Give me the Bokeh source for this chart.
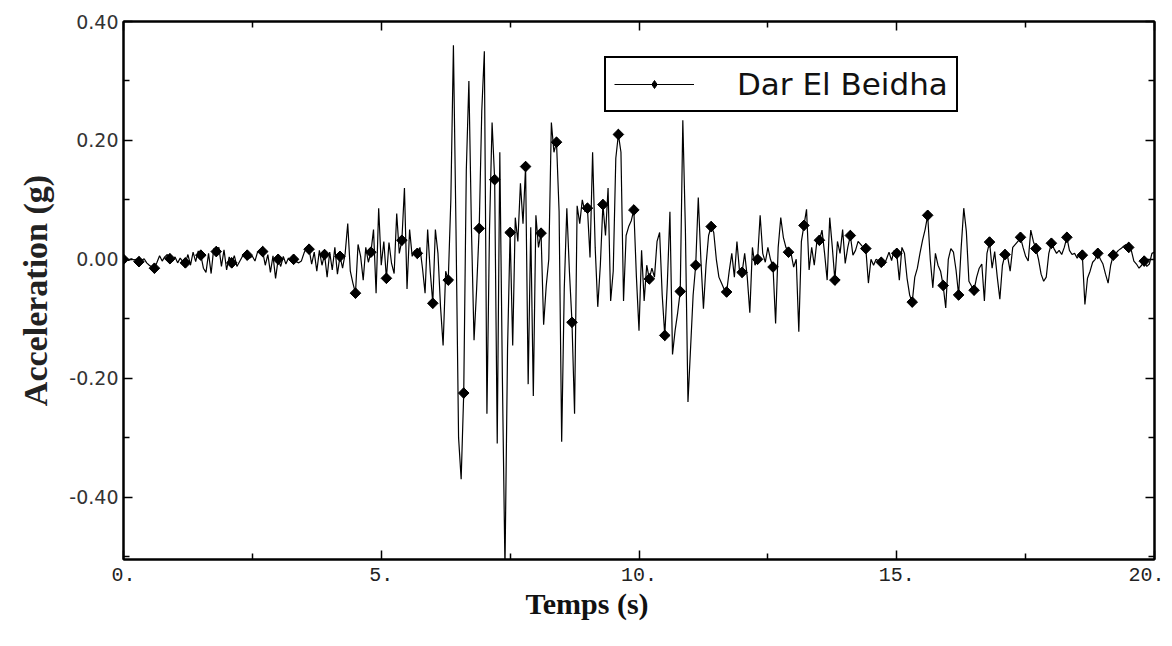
from bokeh.plotting import figure
from bokeh.models import (ColumnDataSource, LinearAxis, FixedTicker, Range1d, Legend,
                          LegendItem, Title, NumeralTickFormatter, CustomJSTickFormatter)
from bokeh.embed import file_html
from bokeh.resources import INLINE

SAMPLE_DT = 0.05
MARK_EVERY = 6
series_name = "Dar El Beidha"
acceleration = [
    0.000, 0.002, -0.002, 0.001, -0.001, 0.000, -0.004, -0.002, 0.001, -0.006, -0.010, -0.013, -0.015, -0.005, 0.006, -0.003, 0.004, 0.008, 0.001, -0.003,
    0.004, -0.006, 0.002, -0.004, -0.006, 0.008, -0.010, 0.012, -0.004, 0.014, 0.007, -0.015, -0.022, 0.010, -0.024, 0.018, 0.013, 0.020, -0.012, 0.016,
    -0.018, 0.004, -0.006, 0.006, -0.012, -0.004, 0.004, 0.010, 0.007, 0.002, 0.005, -0.003, 0.012, 0.016, 0.013, -0.010, 0.008, -0.022, 0.006, -0.032,
    0.000, -0.012, 0.005, -0.008, 0.002, -0.003, 0.000, -0.004, -0.006, -0.003, 0.010, 0.020, 0.017, -0.008, 0.012, -0.020, 0.015, -0.010, 0.008, -0.030,
    0.012, -0.018, 0.020, -0.025, 0.005, -0.015, 0.010, 0.060, -0.020, -0.040, -0.057, 0.025, 0.005, -0.035, 0.020, -0.005, 0.012, 0.050, -0.057, 0.086,
    -0.010, 0.030, -0.032, 0.028, -0.007, -0.024, 0.077, 0.010, 0.032, 0.120, -0.050, 0.050, 0.005, 0.015, 0.010, 0.020, -0.015, -0.057, 0.050, -0.020,
    -0.074, 0.050, 0.010, -0.080, -0.145, -0.020, -0.035, 0.100, 0.360, 0.050, -0.300, -0.370, -0.225, 0.150, 0.300, 0.050, -0.136, -0.050, 0.052, 0.250,
    0.350, -0.260, 0.050, 0.230, 0.134, -0.310, 0.180, -0.200, -0.520, -0.150, 0.045, -0.145, 0.070, 0.030, 0.128, 0.060, 0.156, -0.210, 0.054, -0.230,
    0.074, 0.020, 0.044, -0.110, -0.045, 0.000, 0.230, 0.180, 0.197, 0.080, -0.307, -0.050, 0.086, -0.020, -0.106, -0.260, 0.090, 0.060, 0.100, 0.080,
    0.086, 0.003, 0.180, 0.020, -0.080, -0.010, 0.092, 0.040, 0.120, -0.070, -0.020, 0.170, 0.210, 0.180, -0.070, 0.040, 0.055, 0.065, 0.083, -0.030,
    -0.120, 0.015, -0.070, -0.010, -0.033, -0.015, -0.030, 0.030, 0.045, -0.060, -0.128, -0.040, 0.080, -0.160, -0.120, -0.090, -0.054, 0.234, 0.050, -0.240,
    -0.150, -0.060, -0.010, 0.104, 0.000, -0.083, -0.010, 0.040, 0.055, 0.045, 0.000, -0.030, -0.040, -0.050, -0.055, -0.020, 0.010, -0.030, 0.030, -0.020,
    -0.022, 0.010, -0.030, -0.090, 0.020, -0.010, 0.000, 0.074, 0.010, -0.005, 0.020, 0.000, -0.013, -0.108, 0.020, 0.070, 0.037, 0.020, 0.012, 0.010,
    -0.013, 0.000, -0.122, 0.030, 0.057, 0.084, -0.018, 0.020, -0.010, 0.030, 0.032, 0.049, 0.010, -0.035, 0.070, 0.020, -0.035, 0.030, 0.010, 0.050,
    -0.007, 0.020, 0.040, 0.007, 0.015, 0.030, 0.025, 0.020, 0.018, -0.040, 0.000, -0.010, 0.000, -0.003, -0.005, -0.010, 0.000, 0.012, -0.002, 0.015,
    0.010, -0.035, 0.020, 0.010, -0.032, -0.060, -0.072, -0.030, -0.015, 0.010, 0.032, 0.050, 0.074, 0.000, -0.048, 0.010, -0.010, -0.020, -0.044, -0.082,
    0.000, 0.018, 0.012, -0.018, -0.060, 0.020, 0.086, 0.047, -0.037, -0.045, -0.052, -0.030, -0.015, -0.008, -0.070, 0.010, 0.029, -0.015, 0.013, -0.030,
    -0.067, -0.010, 0.008, 0.005, -0.020, 0.020, 0.025, 0.030, 0.037, 0.020, 0.005, -0.003, 0.049, 0.030, 0.018, 0.000, -0.025, -0.037, -0.030, 0.010,
    0.027, 0.018, 0.010, 0.015, 0.008, 0.020, 0.037, 0.015, 0.008, 0.010, 0.002, 0.010, 0.007, -0.076, -0.032, -0.020, -0.005, 0.000, 0.010, 0.000,
    -0.008, -0.025, -0.040, -0.010, 0.007, 0.010, 0.015, 0.018, 0.022, 0.025, 0.020, 0.015, -0.003, -0.008, -0.015, -0.010, -0.003, -0.012, -0.008, 0.010,
    0.012,
]
time_s = [round(i * SAMPLE_DT, 2) for i in range(len(acceleration))]

x_major = [0, 5, 10, 15, 20]
x_minor = [2.5, 7.5, 12.5, 17.5]
y_major = [-0.4, -0.2, 0.0, 0.2, 0.4]
y_minor = [-0.5, -0.3, -0.1, 0.1, 0.3]
x_title = "Temps (s)"
y_title = "Acceleration (g)"

src = ColumnDataSource(dict(t=time_s, a=acceleration))
msrc = ColumnDataSource(dict(t=time_s[::MARK_EVERY], a=acceleration[::MARK_EVERY]))

p = figure(width=1164, height=638, output_backend="svg", toolbar_location=None,
           title=None, x_range=Range1d(0, 20), y_range=Range1d(-0.505, 0.40),
           min_border_left=123, min_border_right=10, min_border_top=21,
           min_border_bottom=79, y_axis_label=y_title)
p.background_fill_color = "white"
p.border_fill_color = "white"
p.xgrid.visible = False
p.ygrid.visible = False
p.outline_line_color = "black"
p.outline_line_width = 2

line_r = p.line("t", "a", source=src, line_color="black", line_width=1.2)
# diamond used as the legend swatch; it sits fully under the rotated squares below
legend_mark_r = p.scatter("t", "a", source=msrc, marker="diamond", size=10,
                          fill_color="black", line_color="black")
mark_r = p.scatter("t", "a", source=msrc, marker="square", size=7.5, angle=0.7854,
                   fill_color="black", line_color="black")


def style_axis(ax, major, minor):
    ax.ticker = FixedTicker(ticks=major, minor_ticks=minor)
    ax.axis_line_color = "black"
    ax.axis_line_width = 2
    ax.major_tick_in = 9
    ax.major_tick_out = 0
    ax.minor_tick_in = 6
    ax.minor_tick_out = 0
    ax.major_tick_line_color = "black"
    ax.minor_tick_line_color = "black"
    ax.major_tick_line_width = 1.5
    ax.minor_tick_line_width = 1.5


xa = p.xaxis[0]
style_axis(xa, x_major, x_minor)
xa.formatter = CustomJSTickFormatter(code="return tick.toFixed(0) + '.';")
xa.major_label_text_font = "Liberation Mono"
xa.major_label_text_font_size = "20px"
xa.major_label_text_color = "#222222"
xa.major_label_standoff = 8

ya = p.yaxis[0]
style_axis(ya, y_major, y_minor)
ya.formatter = NumeralTickFormatter(format="0.00")
ya.major_label_text_font = "DejaVu Sans"
ya.major_label_text_font_size = "19px"
ya.major_label_text_color = "#333333"
ya.major_label_standoff = 5
ya.axis_label_text_font = "Liberation Serif"
ya.axis_label_text_font_style = "bold"
ya.axis_label_text_font_size = "34px"
ya.axis_label_text_color = "#222222"
ya.axis_label_standoff = 12

for side, major, minor in (("above", x_major, x_minor), ("right", y_major, y_minor)):
    ax = LinearAxis(formatter=CustomJSTickFormatter(code="return '';"))
    style_axis(ax, major, minor)
    ax.major_label_text_font_size = "0px"
    ax.major_label_standoff = 0
    p.add_layout(ax, side)

xt = Title(text=x_title, align="left", offset=402, text_font="Liberation Serif",
           text_font_style="bold", text_font_size="30px", text_color="#111111", standoff=2)
p.add_layout(xt, "below")

legend = Legend(items=[LegendItem(label=series_name, renderers=[line_r, legend_mark_r])],
                location=(481, 447), margin=0, padding=8, glyph_width=80, glyph_height=20,
                label_standoff=43, label_text_font="DejaVu Sans", label_text_font_size="31px",
                label_text_color="#111111", border_line_color="black", border_line_width=2,
                border_line_alpha=1.0, background_fill_color="white", background_fill_alpha=1.0)
p.add_layout(legend)

open("out.html", "w").write(file_html(p, INLINE))
